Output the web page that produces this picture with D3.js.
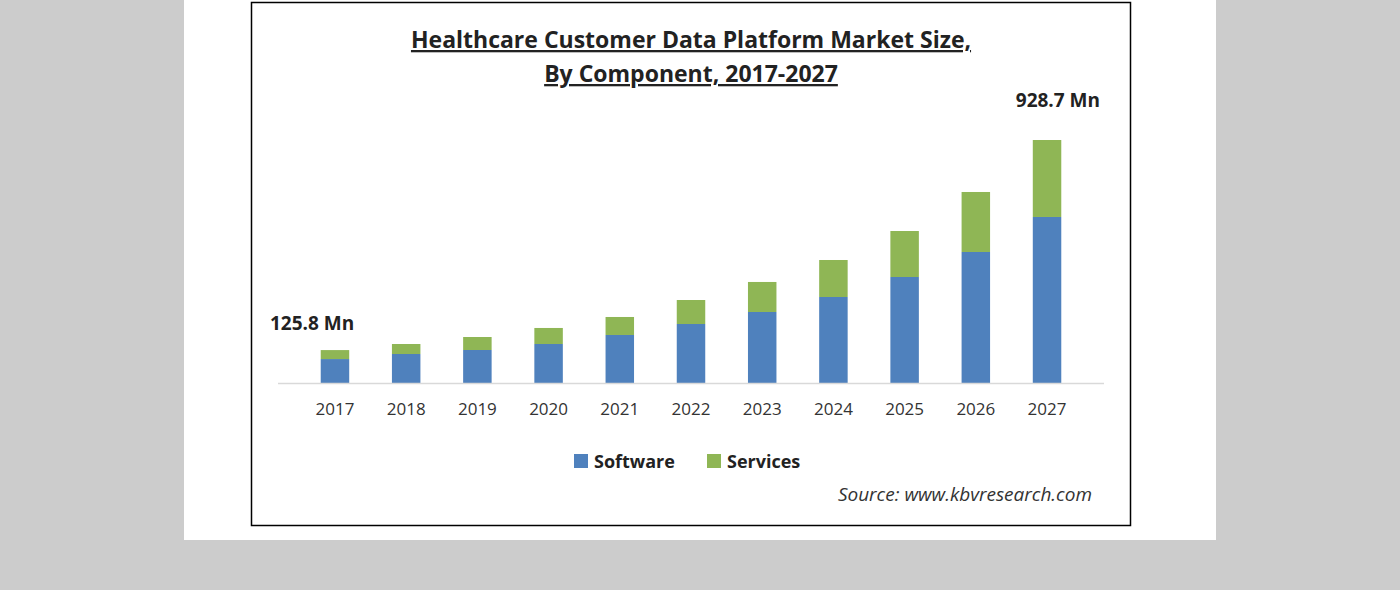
<!DOCTYPE html>
<html>
<head>
<meta charset="utf-8">
<script src="https://cdn.jsdelivr.net/npm/d3@7"></script>
<style>
  body { margin: 0; background: #cccccc; }
  svg { display: block; }
</style>
</head>
<body>
<svg id="chart" width="1400" height="590"></svg>
<script>
// data (Mn)
const years = ['2017', '2018', '2019', '2020', '2021', '2022', '2023', '2024', '2025', '2026', '2027'];
const software = [91.5, 110.8, 126.1, 149.1, 183.5, 225.5, 271.4, 328.7, 405.1, 500.7, 634.5];
const services = [34.3, 38.2, 49.7, 61.2, 68.8, 91.7, 114.7, 141.4, 175.8, 229.3, 294.2];
const seriesNames = ['Software', 'Services'];
const colors = ['#4f81bd', '#8fb655'];

const svg = d3.select('#chart');
const font = 'Open Sans, DejaVu Sans, sans-serif';

// white panel and bordered box
svg.append('rect').attr('x', 184).attr('y', 0).attr('width', 1032).attr('height', 540).attr('fill', '#fff');
svg.append('rect').attr('x', 251.5).attr('y', 2.5).attr('width', 879).attr('height', 523)
    .attr('fill', 'none').attr('stroke', '#000').attr('stroke-width', 1.5);

// title
const title = ['Healthcare Customer Data Platform Market Size,', 'By Component, 2017-2027'];
title.forEach((t, i) => {
    svg.append('text').attr('x', 691).attr('y', 48 + i * 34).attr('text-anchor', 'middle')
        .attr('font-family', font).attr('font-weight', 'bold').attr('font-size', 23)
        .attr('text-decoration', 'underline').attr('fill', '#222').text(t);
});

const rows = years.map((y, i) => ({ year: y, Software: software[i], Services: services[i] }));
const stacked = d3.stack().keys(seriesNames)(rows);

const x = d3.scaleBand().domain(years).range([278, 1104]).padding(0.6);
const y = d3.scaleLinear().domain([0, 928.7]).range([383, 140]);

svg.append('g').selectAll('g').data(stacked).join('g')
    .attr('fill', (d, i) => colors[i])
    .selectAll('rect').data(d => d).join('rect')
    .attr('x', d => x(d.data.year))
    .attr('width', x.bandwidth())
    .attr('y', d => y(d[1]))
    .attr('height', d => y(d[0]) - y(d[1]));

// baseline
svg.append('line').attr('x1', 278).attr('x2', 1104).attr('y1', 383.5).attr('y2', 383.5)
    .attr('stroke', '#d9d9d9').attr('stroke-width', 1.5);

// x axis labels
const axis = svg.append('g').attr('transform', 'translate(0,383)')
    .call(d3.axisBottom(x).tickSize(0).tickPadding(20));
axis.select('.domain').remove();
axis.selectAll('text').attr('font-family', font).attr('font-size', 17).attr('fill', '#333');

// value callouts
const first = rows[0], last = rows[rows.length - 1];
svg.append('text').attr('x', 270).attr('y', 330).attr('font-family', font)
    .attr('font-weight', 'bold').attr('font-size', 19).attr('fill', '#222')
    .text(d3.format('.1f')(first.Software + first.Services) + ' Mn');
svg.append('text').attr('x', 1100).attr('y', 107).attr('text-anchor', 'end').attr('font-family', font)
    .attr('font-weight', 'bold').attr('font-size', 19).attr('fill', '#222')
    .text(d3.format('.1f')(last.Software + last.Services) + ' Mn');

// legend
const legendX = [574, 707];
seriesNames.forEach((n, i) => {
    svg.append('rect').attr('x', legendX[i]).attr('y', 454).attr('width', 14).attr('height', 14).attr('fill', colors[i]);
    svg.append('text').attr('x', legendX[i] + 20).attr('y', 468).attr('font-family', font)
        .attr('font-weight', 'bold').attr('font-size', 18).attr('fill', '#222').text(n);
});

// source
svg.append('text').attr('x', 1092).attr('y', 501).attr('text-anchor', 'end').attr('font-family', font)
    .attr('font-style', 'italic').attr('font-size', 19).attr('fill', '#333')
    .text('Source: www.kbvresearch.com');
</script>
</body>
</html>
